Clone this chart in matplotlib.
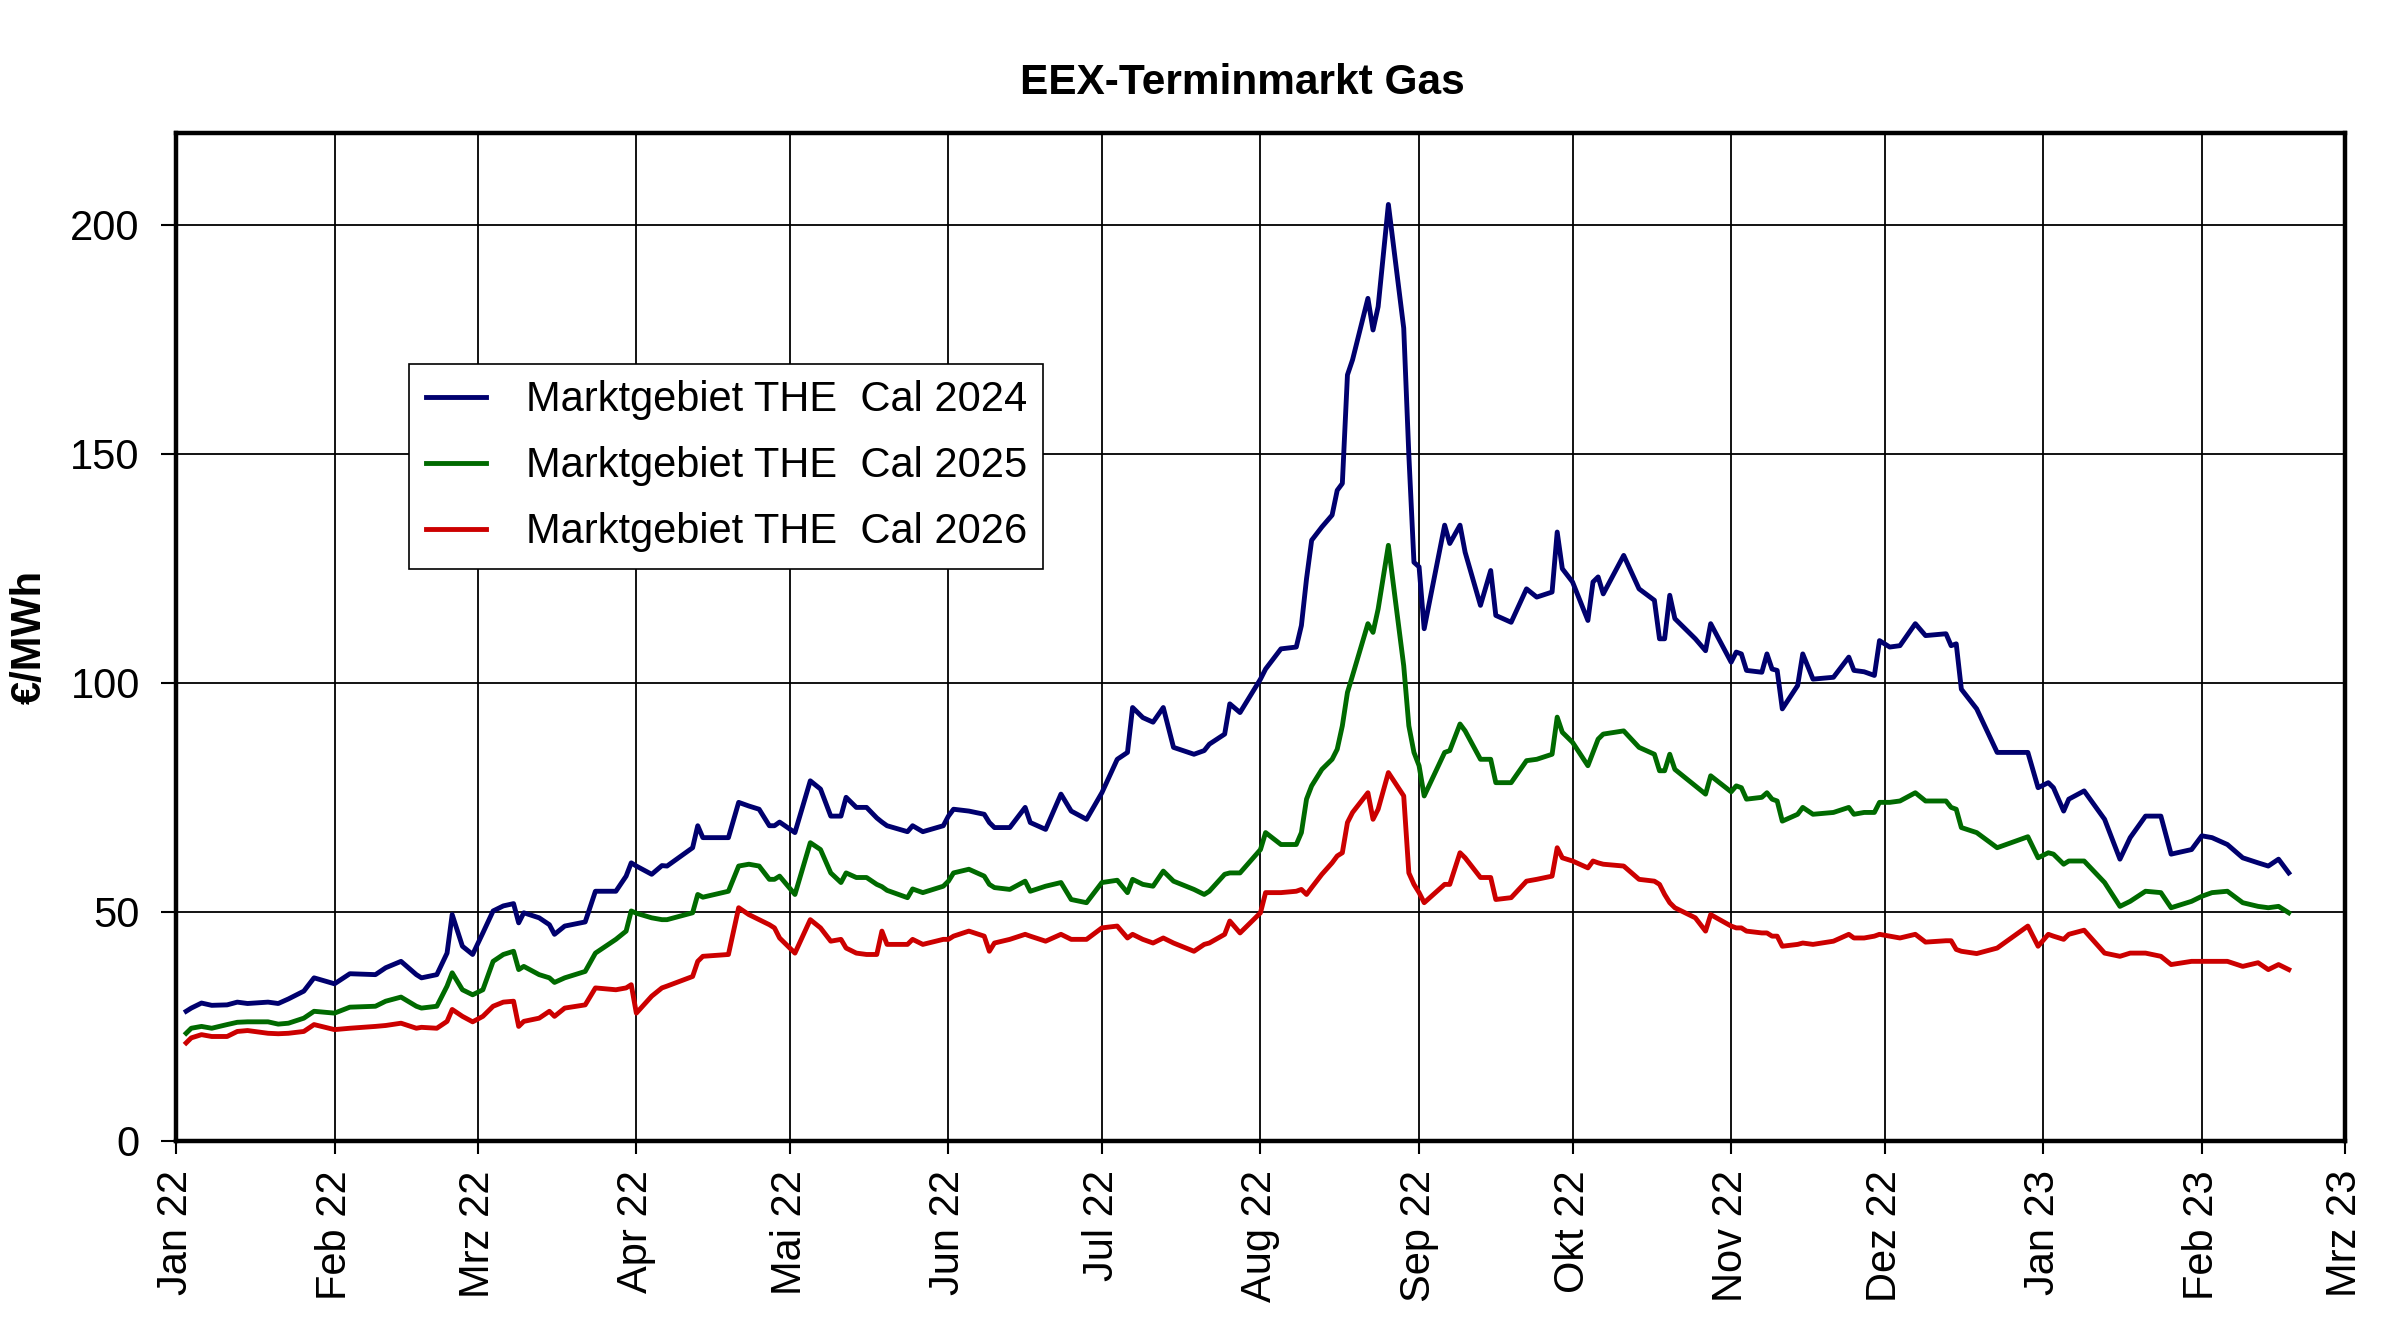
import datetime as dt

import matplotlib

matplotlib.use("Agg")
import matplotlib.pyplot as plt

plt.rcParams["font.family"] = ["Liberation Sans", "DejaVu Sans"]

# trading days, counted in days after 1 Jan 2022
trade_day = [
    2, 3, 5, 7, 10, 12, 14, 18, 20, 22, 25, 27, 31, 34, 39, 41, 44, 47, 48, 51,
    53, 54, 56, 58, 60, 62, 64, 66, 67, 68, 71, 73, 74, 76, 80, 82, 86, 88, 89, 90,
    93, 95, 96, 101, 102, 103, 108, 110, 112, 114, 116, 117, 118, 121, 124, 126, 128, 130, 131, 133,
    135, 137, 138, 139, 143, 144, 146, 150, 151, 152, 155, 158, 159, 160, 163, 166, 167, 170, 173, 175, 178,
    181, 184, 186, 187, 189, 191, 193, 195, 199, 201, 202, 205, 206, 208, 212, 213, 216, 219, 220, 221,
    222, 224, 226, 227, 228, 229, 230, 233, 234, 235, 237, 240, 241, 242, 243, 244, 248, 249, 251, 252,
    255, 257, 258, 261,
    264, 266, 269, 270, 271, 273, 276, 277, 278, 279, 283, 286, 289, 290, 291, 292, 293, 297, 299, 300,
    304, 305, 306, 307, 310, 311, 312, 313, 314, 317, 318, 320, 324, 327, 328, 330, 332, 333, 335, 337,
    340, 342, 346, 347,
    348, 349, 352, 356, 362, 364, 366, 367, 369, 370, 373, 377, 380, 382, 385, 388, 390, 394, 396, 398,
    401, 404, 407, 409, 411, 413,
]

cal_2024 = [
    28.3, 29.0, 30.1, 29.6, 29.7, 30.3, 30.0, 30.3, 30.0, 31.0, 32.7, 35.6, 34.3, 36.5, 36.3, 37.8, 39.2, 36.3, 35.6, 36.3,
    41.0, 49.4, 42.5, 40.7, 45.4, 50.2, 51.3, 51.8, 47.6, 49.8, 48.7, 47.2, 45.1, 46.9, 47.8, 54.5, 54.5, 57.8, 60.7, 60.0,
    58.2, 60.1, 60.0, 64.0, 68.8, 66.2, 66.2, 73.9, 73.1, 72.4, 68.8, 68.8, 69.6, 67.3, 78.6, 76.8, 70.9, 70.9, 75.0, 72.8,
    72.8, 70.5, 69.6, 68.8, 67.5, 68.8, 67.5, 68.8, 70.9, 72.4, 72.0, 71.3, 69.5, 68.4, 68.4, 72.8, 69.5, 68.0, 75.7, 72.0, 70.2,
    76.0, 83.3, 84.8, 94.6, 92.4, 91.4, 94.6, 85.9, 84.4, 85.2, 86.6, 88.8, 95.4, 93.5, 100.8, 103.0, 107.4, 107.8, 112.5, 122.7,
    131.1, 134.0, 136.6, 142.0, 143.5, 167.2, 170.5, 183.9, 177.0, 182.1, 204.4, 177.4, 149.7, 126.3, 125.3, 111.8, 134.4, 130.4, 134.4, 128.5,
    116.9, 124.5, 114.7, 113.2,
    120.5, 118.7, 119.8, 132.9, 124.9, 122.0, 113.6, 122.0, 123.1, 119.4, 127.8, 120.5, 118.0, 109.6, 109.6, 119.1, 114.0, 109.6, 107.0, 112.9,
    104.5, 106.7, 106.3, 102.7, 102.3, 106.3, 103.0, 102.7, 94.3, 99.4, 106.3, 100.8, 101.2, 105.6, 102.7, 102.4, 101.6, 109.2, 107.8, 108.1,
    112.9, 110.3, 110.7, 108.1,
    108.5, 98.6, 94.3, 84.8, 84.8, 77.1, 78.2, 77.1, 72.0, 74.6, 76.4, 70.2, 61.5, 66.2, 70.9, 70.9, 62.6, 63.6, 66.6, 66.2,
    64.7, 61.8, 60.7, 60.0, 61.5, 58.5,
]

cal_2025 = [
    23.5, 24.6, 25.0, 24.6, 25.4, 25.9, 26.0, 26.0, 25.5, 25.7, 26.8, 28.3, 27.9, 29.2, 29.4, 30.5, 31.4, 29.4, 29.0, 29.4,
    33.8, 36.7, 33.0, 31.9, 33.0, 39.2, 40.7, 41.4, 37.4, 38.1, 36.3, 35.6, 34.6, 35.6, 37.0, 41.0, 44.0, 45.8, 50.2, 49.7,
    48.7, 48.3, 48.3, 49.8, 53.8, 53.2, 54.5, 60.0, 60.4, 60.0, 57.1, 57.1, 57.8, 53.8, 65.1, 63.6, 58.5, 56.4, 58.5, 57.5,
    57.5, 56.0, 55.5, 54.7, 53.1, 55.0, 54.2, 55.6, 56.7, 58.5, 59.3, 57.8, 56.0, 55.3, 54.9, 56.7, 54.5, 55.6, 56.4, 52.7, 52.0,
    56.4, 56.9, 54.2, 57.1, 56.0, 55.6, 58.9, 56.7, 54.9, 53.8, 54.5, 58.2, 58.5, 58.5, 63.6, 67.3, 64.7, 64.7, 67.3, 74.6,
    77.5, 81.1, 83.3, 85.5, 90.6, 97.9, 101.6, 112.9, 111.0, 116.1, 130.0, 103.7, 90.6, 84.8, 81.9, 75.3, 84.8, 85.2, 91.0, 89.5,
    83.3, 83.3, 78.2, 78.2,
    83.0, 83.3, 84.4, 92.5, 89.2, 87.0, 81.9, 84.8, 87.7, 88.8, 89.5, 85.9, 84.4, 80.8, 80.8, 84.4, 81.1, 77.5, 75.7, 79.7,
    76.2, 77.5, 77.1, 74.6, 75.0, 76.0, 74.6, 74.2, 69.8, 71.3, 72.8, 71.3, 71.7, 72.8, 71.3, 71.7, 71.7, 73.9, 73.9, 74.2,
    76.0, 74.2, 74.2, 72.8,
    72.4, 68.4, 67.3, 64.0, 66.4, 61.8, 62.9, 62.6, 60.4, 61.1, 61.1, 56.4, 51.2, 52.3, 54.5, 54.2, 50.9, 52.3, 53.4, 54.2,
    54.5, 52.0, 51.2, 50.9, 51.2, 49.8,
]

cal_2026 = [
    21.4, 22.5, 23.2, 22.8, 22.8, 23.9, 24.1, 23.5, 23.4, 23.5, 23.9, 25.4, 24.3, 24.6, 25.0, 25.2, 25.7, 24.6, 24.8, 24.6,
    26.1, 28.7, 27.2, 26.0, 27.2, 29.4, 30.3, 30.5, 25.0, 26.1, 26.8, 28.3, 27.2, 29.0, 29.7, 33.4, 33.0, 33.4, 34.1, 27.9,
    31.6, 33.4, 33.8, 35.9, 39.2, 40.3, 40.7, 50.9, 49.4, 48.3, 47.2, 46.5, 44.3, 41.0, 48.3, 46.5, 43.6, 44.0, 42.1, 41.0,
    40.7, 40.7, 45.8, 42.9, 42.9, 44.0, 42.9, 44.0, 44.0, 44.7, 45.8, 44.7, 41.4, 43.2, 44.0, 45.1, 44.7, 43.6, 45.1, 44.0, 44.0,
    46.5, 46.9, 44.3, 45.1, 44.0, 43.2, 44.3, 43.2, 41.4, 42.9, 43.2, 45.1, 48.0, 45.4, 49.8, 54.2, 54.2, 54.5, 54.9, 53.8,
    55.3, 58.2, 60.7, 62.2, 62.9, 69.5, 71.7, 76.0, 70.2, 72.4, 80.4, 75.3, 58.5, 56.0, 54.2, 52.0, 56.0, 56.0, 62.9, 61.8,
    57.5, 57.5, 52.7, 53.1,
    56.7, 57.1, 57.8, 64.0, 61.8, 61.1, 59.6, 61.1, 60.7, 60.4, 60.0, 57.1, 56.7, 56.0, 53.8, 52.0, 50.9, 48.7, 45.8, 49.4,
    46.9, 46.5, 46.5, 45.8, 45.4, 45.4, 44.7, 44.7, 42.5, 42.9, 43.2, 42.9, 43.6, 45.1, 44.3, 44.3, 44.7, 45.1, 44.7, 44.3,
    45.1, 43.4, 43.7, 43.7,
    41.8, 41.4, 40.9, 42.1, 46.9, 42.5, 45.1, 44.7, 44.0, 45.1, 46.0, 41.0, 40.3, 41.0, 41.0, 40.3, 38.5, 39.2, 39.2, 39.2,
    39.2, 38.1, 38.9, 37.4, 38.5, 37.4,
]

series_labels = [
    "Marktgebiet THE  Cal 2024",
    "Marktgebiet THE  Cal 2025",
    "Marktgebiet THE  Cal 2026",
]
series_colors = ["#00006e", "#006a00", "#cc0000"]
month_names = ["Jan", "Feb", "Mrz", "Apr", "Mai", "Jun", "Jul",
               "Aug", "Sep", "Okt", "Nov", "Dez"]

start = dt.datetime(2022, 1, 1)
dates = [start + dt.timedelta(days=d) for d in trade_day]

fig = plt.figure(figsize=(24, 13.27), dpi=100)
ax = fig.add_axes([0.0733, 0.1402, 0.9038, 0.7596])

for vals, lab, col in zip([cal_2024, cal_2025, cal_2026], series_labels, series_colors):
    ax.plot(dates, vals, color=col, lw=3.5, label=lab, solid_joinstyle="round")

# month ticks Jan 22 .. Mrz 23
ticks, tick_labels = [], []
for i in range(15):
    y, m = 2022 + i // 12, i % 12 + 1
    ticks.append(dt.datetime(y, m, 1))
    tick_labels.append(f"{month_names[m - 1]} {str(y)[2:]}")

ax.set_xlim(ticks[0], ticks[-1])
ax.set_xticks(ticks)
ax.set_xticklabels(tick_labels, rotation=90, fontsize=30)
ax.set_ylim(0, 220)
ax.set_yticks([0, 50, 100, 150, 200])
ax.tick_params(axis="y", labelsize=30, length=11, width=1.5, pad=15)
ax.tick_params(axis="x", length=9, width=1.5, pad=12)

ax.grid(True, color="black", lw=1.3)
ax.set_axisbelow(True)
for sp in ax.spines.values():
    sp.set_linewidth(3.2)

leg = ax.legend(loc="upper left", bbox_to_anchor=(0.1074, 0.771), fontsize=30,
                frameon=True, fancybox=False, framealpha=1, edgecolor="black",
                handlelength=1.45, handletextpad=0.95, labelspacing=0.62,
                borderpad=0.4, borderaxespad=0)
leg.get_frame().set_linewidth(1.2)

fig.text(1242 / 2400, 1 - 83 / 1327, "EEX-Terminmarkt Gas", ha="center", va="center",
         fontsize=30.5, fontweight="bold")
fig.text(30 / 2400, 1 - 637 / 1327, "€/MWh", rotation=90, ha="center", va="center",
         fontsize=30, fontweight="bold")

fig.savefig("out.png", dpi=100)
